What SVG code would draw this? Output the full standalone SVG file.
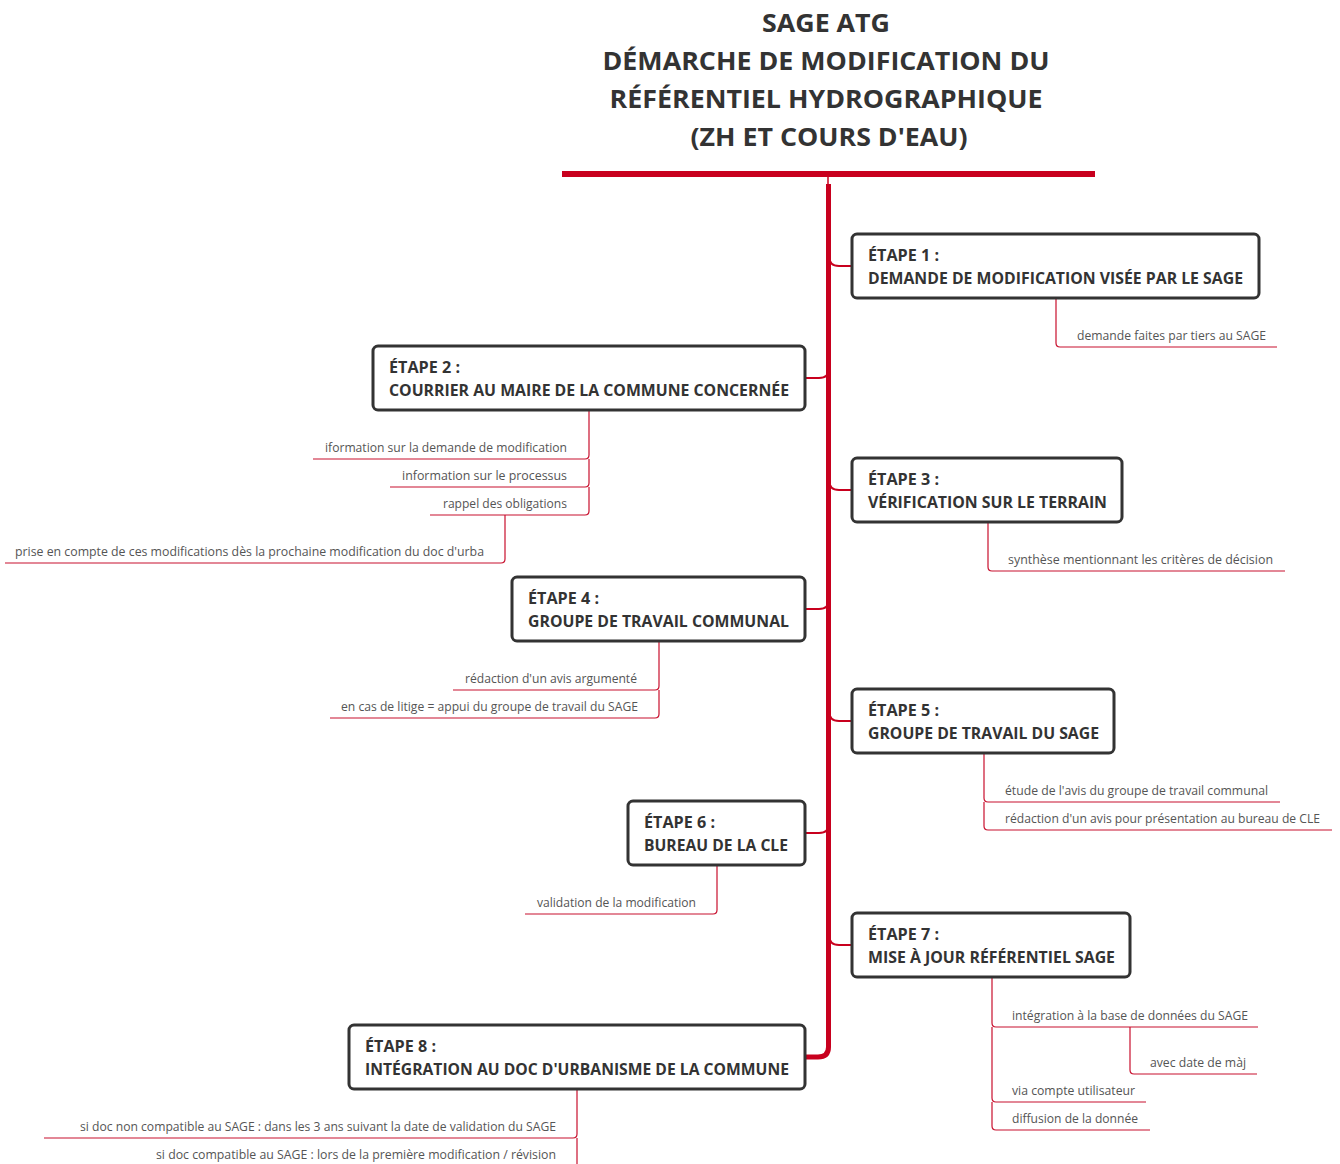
<svg xmlns="http://www.w3.org/2000/svg" width="1340" height="1164" viewBox="0 0 1340 1164">
<style>
.title{font-family:"Open Sans","Liberation Sans",sans-serif;font-weight:bold;font-size:25px;fill:#333;text-anchor:middle}
.node rect{fill:#fff;stroke:#333;stroke-width:3}
.node text{font-family:"Open Sans","Liberation Sans",sans-serif;font-weight:bold;font-size:16.5px;fill:#333}
.sub{font-family:"Open Sans","Liberation Sans",sans-serif;font-size:12.2px;fill:#555}
.end{text-anchor:end}
.thin{fill:none;stroke:#c8102e;stroke-width:1.2}
.br{fill:none;stroke:#c8001e;stroke-width:2}
</style>
<rect width="1340" height="1164" fill="#fff"/>
<g id="title">
<text class="title" x="826" y="32" textLength="128" lengthAdjust="spacingAndGlyphs">SAGE ATG</text>
<text class="title" x="826" y="70" textLength="447" lengthAdjust="spacingAndGlyphs">DÉMARCHE DE MODIFICATION DU</text>
<text class="title" x="826" y="108" textLength="433" lengthAdjust="spacingAndGlyphs">RÉFÉRENTIEL HYDROGRAPHIQUE</text>
<text class="title" x="829" y="146" textLength="277" lengthAdjust="spacingAndGlyphs">(ZH ET COURS D'EAU)</text>
</g>
<g id="connectors">
<rect x="562" y="171" width="533" height="6" fill="#c8001e"/>
<line x1="828" y1="177" x2="828" y2="184" stroke="#c8001e" stroke-width="1.5"/>
<path d="M828.5,184 V1047 Q828.5,1057 818,1057 H805" fill="none" stroke="#c8001e" stroke-width="5"/>
<path class="br" d="M829,256 Q829,266 839,266 H852"/>
<path class="br" d="M829,368 Q829,378 819,378 H805"/>
<path class="br" d="M829,480 Q829,490 839,490 H852"/>
<path class="br" d="M829,599 Q829,609 819,609 H805"/>
<path class="br" d="M829,711 Q829,721 839,721 H852"/>
<path class="br" d="M829,823 Q829,833 819,833 H805"/>
<path class="br" d="M829,935 Q829,945 839,945 H852"/>
<path class="thin" d="M1056,298 V343 Q1056,347 1060,347 H1277"/>
<path class="thin" d="M589,410 V455 Q589,459 585,459 H313"/>
<path class="thin" d="M589,459 V483 Q589,487 585,487 H390"/>
<path class="thin" d="M589,487 V511 Q589,515 585,515 H430"/>
<path class="thin" d="M505,515 V559 Q505,563 501,563 H5"/>
<path class="thin" d="M988,522 V567 Q988,571 992,571 H1285"/>
<path class="thin" d="M659,641 V686 Q659,690 655,690 H453"/>
<path class="thin" d="M659,690 V714 Q659,718 655,718 H330"/>
<path class="thin" d="M984,753 V798 Q984,802 988,802 H1280"/>
<path class="thin" d="M984,802 V826 Q984,830 988,830 H1332"/>
<path class="thin" d="M717,865 V910 Q717,914 713,914 H525"/>
<path class="thin" d="M992,977 V1023 Q992,1027 996,1027 H1258"/>
<path class="thin" d="M1130,1027 V1070 Q1130,1074 1134,1074 H1257"/>
<path class="thin" d="M992,1027 V1098 Q992,1102 996,1102 H1146"/>
<path class="thin" d="M992,1102 V1126 Q992,1130 996,1130 H1150"/>
<path class="thin" d="M577,1089 V1134 Q577,1138 573,1138 H44"/>
<path class="thin" d="M577,1138 V1164"/>
</g>
<g id="node1" class="node"><rect x="852" y="234" width="407" height="64" rx="5"/><text x="868" y="261" textLength="71" lengthAdjust="spacingAndGlyphs">ÉTAPE 1 :</text><text x="868" y="284" textLength="375" lengthAdjust="spacingAndGlyphs">DEMANDE DE MODIFICATION VISÉE PAR LE SAGE</text></g>
<g id="node2" class="node"><rect x="373" y="346" width="432" height="64" rx="5"/><text x="389" y="373" textLength="71" lengthAdjust="spacingAndGlyphs">ÉTAPE 2 :</text><text x="389" y="396" textLength="400" lengthAdjust="spacingAndGlyphs">COURRIER AU MAIRE DE LA COMMUNE CONCERNÉE</text></g>
<g id="node3" class="node"><rect x="852" y="458" width="270" height="64" rx="5"/><text x="868" y="485" textLength="71" lengthAdjust="spacingAndGlyphs">ÉTAPE 3 :</text><text x="868" y="508" textLength="239" lengthAdjust="spacingAndGlyphs">VÉRIFICATION SUR LE TERRAIN</text></g>
<g id="node4" class="node"><rect x="512" y="577" width="293" height="64" rx="5"/><text x="528" y="604" textLength="71" lengthAdjust="spacingAndGlyphs">ÉTAPE 4 :</text><text x="528" y="627" textLength="261" lengthAdjust="spacingAndGlyphs">GROUPE DE TRAVAIL COMMUNAL</text></g>
<g id="node5" class="node"><rect x="852" y="689" width="262" height="64" rx="5"/><text x="868" y="716" textLength="71" lengthAdjust="spacingAndGlyphs">ÉTAPE 5 :</text><text x="868" y="739" textLength="231" lengthAdjust="spacingAndGlyphs">GROUPE DE TRAVAIL DU SAGE</text></g>
<g id="node6" class="node"><rect x="628" y="801" width="177" height="64" rx="5"/><text x="644" y="828" textLength="71" lengthAdjust="spacingAndGlyphs">ÉTAPE 6 :</text><text x="644" y="851" textLength="144" lengthAdjust="spacingAndGlyphs">BUREAU DE LA CLE</text></g>
<g id="node7" class="node"><rect x="852" y="913" width="278" height="64" rx="5"/><text x="868" y="940" textLength="71" lengthAdjust="spacingAndGlyphs">ÉTAPE 7 :</text><text x="868" y="963" textLength="247" lengthAdjust="spacingAndGlyphs">MISE À JOUR RÉFÉRENTIEL SAGE</text></g>
<g id="node8" class="node"><rect x="349" y="1025" width="456" height="64" rx="5"/><text x="365" y="1052" textLength="71" lengthAdjust="spacingAndGlyphs">ÉTAPE 8 :</text><text x="365" y="1075" textLength="424" lengthAdjust="spacingAndGlyphs">INTÉGRATION AU DOC D'URBANISME DE LA COMMUNE</text></g>
<g id="subs">
<text class="sub" x="1077" y="340" textLength="189" lengthAdjust="spacingAndGlyphs">demande faites par tiers au SAGE</text>
<text class="sub end" x="567" y="452" textLength="242" lengthAdjust="spacingAndGlyphs">iformation sur la demande de modification</text>
<text class="sub end" x="567" y="480" textLength="165" lengthAdjust="spacingAndGlyphs">information sur le processus</text>
<text class="sub end" x="567" y="508" textLength="124" lengthAdjust="spacingAndGlyphs">rappel des obligations</text>
<text class="sub end" x="484" y="556" textLength="469" lengthAdjust="spacingAndGlyphs">prise en compte de ces modifications dès la prochaine modification du doc d'urba</text>
<text class="sub" x="1008" y="564" textLength="265" lengthAdjust="spacingAndGlyphs">synthèse mentionnant les critères de décision</text>
<text class="sub end" x="637" y="683" textLength="172" lengthAdjust="spacingAndGlyphs">rédaction d'un avis argumenté</text>
<text class="sub end" x="638" y="711" textLength="297" lengthAdjust="spacingAndGlyphs">en cas de litige = appui du groupe de travail du SAGE</text>
<text class="sub" x="1005" y="795" textLength="263" lengthAdjust="spacingAndGlyphs">étude de l'avis du groupe de travail communal</text>
<text class="sub" x="1005" y="823" textLength="315" lengthAdjust="spacingAndGlyphs">rédaction d'un avis pour présentation au bureau de CLE</text>
<text class="sub end" x="696" y="907" textLength="159" lengthAdjust="spacingAndGlyphs">validation de la modification</text>
<text class="sub" x="1012" y="1020" textLength="236" lengthAdjust="spacingAndGlyphs">intégration à la base de données du SAGE</text>
<text class="sub" x="1150" y="1067" textLength="96" lengthAdjust="spacingAndGlyphs">avec date de màj</text>
<text class="sub" x="1012" y="1095" textLength="123" lengthAdjust="spacingAndGlyphs">via compte utilisateur</text>
<text class="sub" x="1012" y="1123" textLength="126" lengthAdjust="spacingAndGlyphs">diffusion de la donnée</text>
<text class="sub end" x="556" y="1131" textLength="476" lengthAdjust="spacingAndGlyphs">si doc non compatible au SAGE : dans les 3 ans suivant la date de validation du SAGE</text>
<text class="sub end" x="556" y="1159" textLength="400" lengthAdjust="spacingAndGlyphs">si doc compatible au SAGE : lors de la première modification / révision</text>
</g>
</svg>
